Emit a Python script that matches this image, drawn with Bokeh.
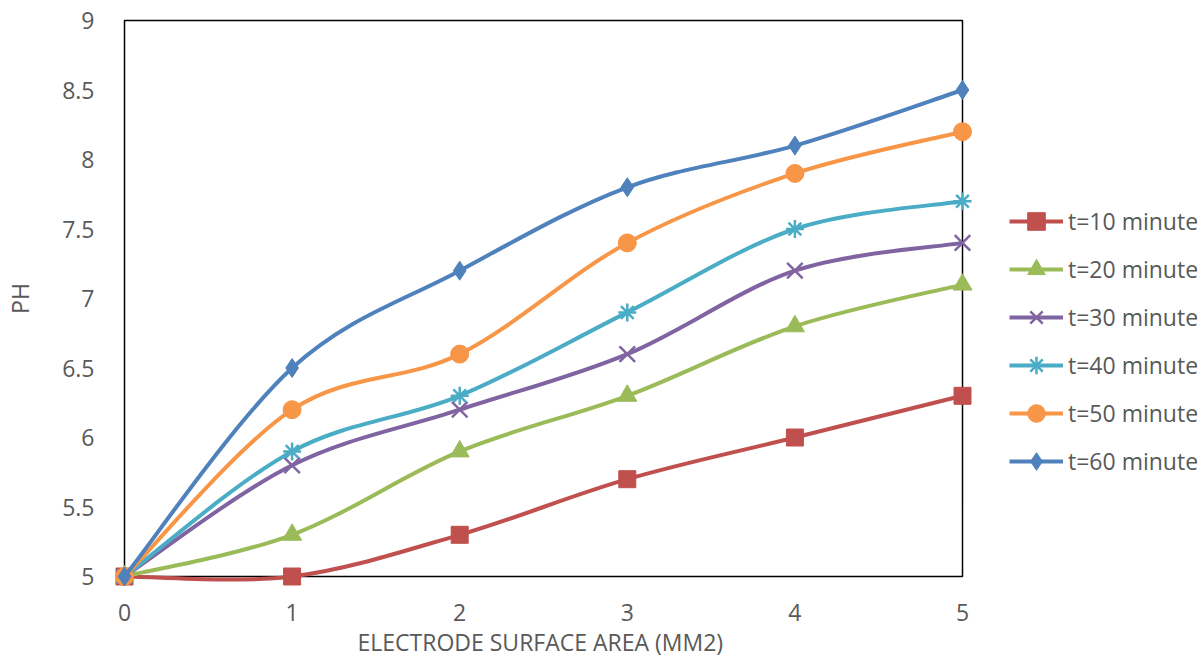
from bokeh.plotting import figure
from bokeh.models import Legend, LegendItem, Range1d, FixedTicker, Title
from bokeh.embed import file_html
from bokeh.resources import INLINE

# ---- data ----
x_vals = [0, 1, 2, 3, 4, 5]
series_names = ["t=10 minute", "t=20 minute", "t=30 minute",
                "t=40 minute", "t=50 minute", "t=60 minute"]
t10 = [5.0, 5.0, 5.3, 5.7, 6.0, 6.3]
t20 = [5.0, 5.3, 5.9, 6.3, 6.8, 7.1]
t30 = [5.0, 5.8, 6.2, 6.6, 7.2, 7.4]
t40 = [5.0, 5.9, 6.3, 6.9, 7.5, 7.7]
t50 = [5.0, 6.2, 6.6, 7.4, 7.9, 8.2]
t60 = [5.0, 6.5, 7.2, 7.8, 8.1, 8.5]
y_ticks = [5, 5.5, 6, 6.5, 7, 7.5, 8, 8.5, 9]
x_ticks = [0, 1, 2, 3, 4, 5]

series = [t10, t20, t30, t40, t50, t60]
colors = ["#C0504D", "#9BBB59", "#8064A2", "#4BACC6", "#F79646", "#4F81BD"]
markers = ["square", "triangle", "x", "asterisk", "circle", "diamond"]
msizes = [17, 19, 22, 18, 18, 19]

TEXT = "#595959"
FONT = "Open Sans"
FS = "23px"

# plot box (x 0..5, y 5..9) in pixels: left 124, right 962, top 20, bottom 576
LEFT_PAD = 10
RIGHT_EXTRA = 241   # room for the legend, right of the plot box
box_w, box_h = 838, 556
ppx = box_w / (x_ticks[-1] - x_ticks[0])
ypad = 10 * (y_ticks[-1] - y_ticks[0]) / box_h

p = figure(width=1203, height=660, output_backend="svg", toolbar_location=None,
           x_range=Range1d(x_ticks[0] - LEFT_PAD / ppx, x_ticks[-1] + RIGHT_EXTRA / ppx),
           y_range=Range1d(y_ticks[0] - ypad, y_ticks[-1] + ypad),
           min_border_left=114, min_border_right=0,
           min_border_top=10, min_border_bottom=74)
p.background_fill_color = "white"
p.border_fill_color = "white"
p.outline_line_color = None
p.xgrid.visible = False
p.ygrid.visible = False

for ax in (p.xaxis[0], p.yaxis[0]):
    ax.axis_line_color = None
    ax.major_tick_line_color = None
    ax.minor_tick_line_color = None
    ax.major_label_text_color = TEXT
    ax.major_label_text_font = FONT
    ax.major_label_text_font_size = FS
    ax.axis_label_text_color = TEXT
    ax.axis_label_text_font = FONT
    ax.axis_label_text_font_size = FS
    ax.axis_label_text_font_style = "normal"

p.xaxis.ticker = FixedTicker(ticks=x_ticks)
p.yaxis.ticker = FixedTicker(ticks=y_ticks)
p.yaxis.major_label_overrides = {5: "5", 6: "6", 7: "7", 8: "8", 9: "9"}
p.xaxis.major_label_standoff = 11
p.yaxis.major_label_standoff = 14
p.yaxis.axis_label = "PH"
p.yaxis.axis_label_standoff = 23

xtitle = Title(text="ELECTRODE SURFACE AREA (MM2)", align="left", offset=243,
               text_font=FONT, text_font_size=FS, text_color=TEXT,
               text_font_style="normal", standoff=0)
p.add_layout(xtitle, "below")

# plot-area box
p.quad(left=[x_ticks[0]], right=[x_ticks[-1]], bottom=[y_ticks[0]], top=[y_ticks[-1]],
       fill_color=None, line_color="black", line_width=1.5)


def bezier_segments(xs, ys):
    n = len(xs)
    X0, Y0, X1, Y1, CX0, CY0, CX1, CY1 = [], [], [], [], [], [], [], []
    for i in range(n - 1):
        ip = max(i - 1, 0)
        inn = min(i + 2, n - 1)
        X0.append(xs[i]); Y0.append(ys[i])
        X1.append(xs[i + 1]); Y1.append(ys[i + 1])
        CX0.append(xs[i] + (xs[i + 1] - xs[ip]) / 6)
        CY0.append(ys[i] + (ys[i + 1] - ys[ip]) / 6)
        CX1.append(xs[i + 1] - (xs[inn] - xs[i]) / 6)
        CY1.append(ys[i + 1] - (ys[inn] - ys[i]) / 6)
    return dict(x0=X0, y0=Y0, x1=X1, y1=Y1, cx0=CX0, cy0=CY0, cx1=CX1, cy1=CY1)


items = []
for name, ys, c, m, s in zip(series_names, series, colors, markers, msizes):
    seg = bezier_segments(x_vals, ys)
    bz = p.bezier(**seg, line_color=c, line_width=4)
    sc = p.scatter(x=x_vals, y=ys, marker=m, size=s, fill_color=c,
                   line_color=c, line_width=2.5 if m in ("x", "asterisk") else 1)
    items.append(LegendItem(label=name, renderers=[bz, sc]))

legend = Legend(items=items, location=(895, 103),
                glyph_width=54, glyph_height=44, label_height=20,
                label_standoff=5, spacing=4, padding=0, margin=0,
                border_line_color=None, background_fill_alpha=0,
                label_text_font=FONT, label_text_font_size=FS,
                label_text_color=TEXT)
p.add_layout(legend, "center")

open("out.html", "w").write(file_html(p, INLINE))
